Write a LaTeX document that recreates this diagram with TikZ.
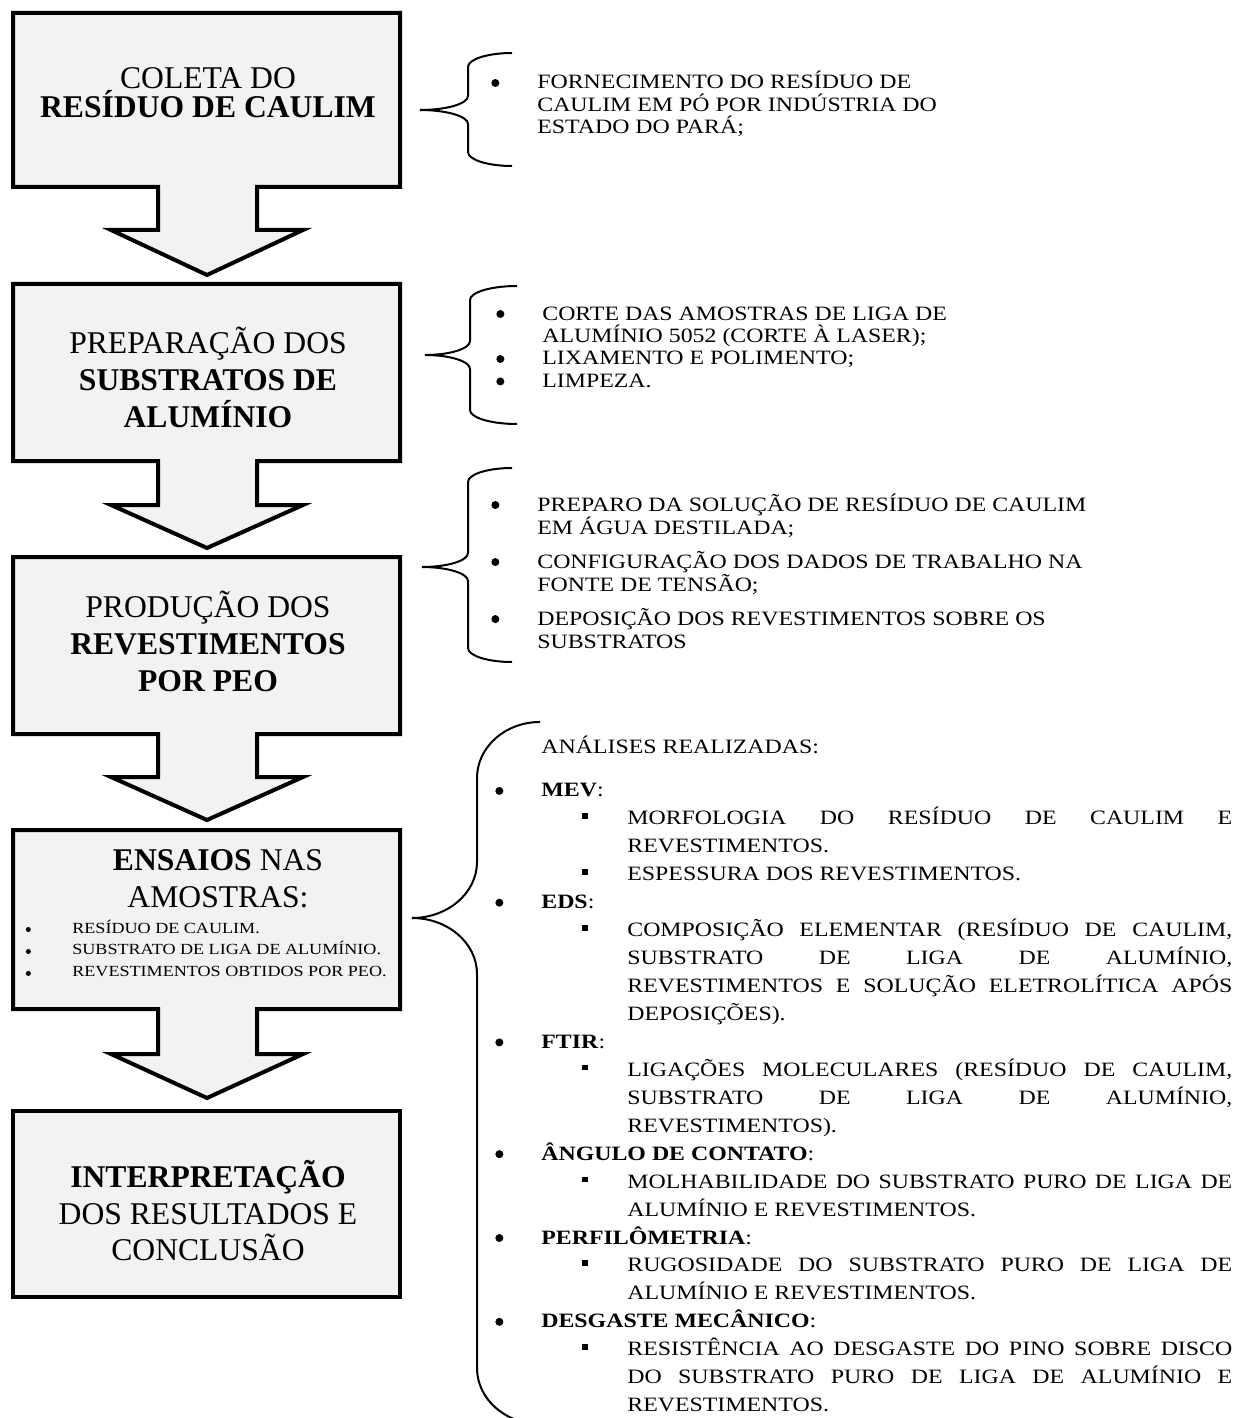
\documentclass[tikz,border=0pt]{standalone}
\usepackage{fontspec}
\setmainfont{Liberation Serif}
\newfontfamily\listfont[FakeStretch=1.17]{Liberation Serif}
\usepackage{tikz}
\usetikzlibrary{positioning}
\definecolor{stgInk}{RGB}{0,0,0}
\definecolor{stgFill}{RGB}{242,242,242}
\newlength{\px}
\setlength{\px}{0.2mm}
\newcommand{\dotmark}{\hspace*{-4\px}\tikz[baseline=0pt]\fill[stgInk] (0,6\px) circle (4\px);}
\newcommand{\minidot}{\hspace*{-2.5\px}\tikz[baseline=0pt]\fill[stgInk] (0,3.5\px) circle (2.5\px);}
\newcommand{\sqmark}{\tikz[baseline=0pt]\fill[stgInk] (0,6\px) rectangle (5.5\px,11.5\px);}
\newcommand{\itm}{\par\noindent\llap{\makebox[42\px][l]{\dotmark}}}
\newcommand{\miniitm}{\par\noindent\llap{\makebox[44\px][l]{\minidot}}}
\newcommand{\subitm}[1]{\par{\leftskip=86\px\tolerance=10000\hbadness=10000\hyphenpenalty=10000
  \noindent\llap{\makebox[45\px][l]{\sqmark}}#1\par}}
% box with its down arrow: top, bottom, shoulder, tip
\newcommand{\stageshape}[4]{%
  \draw[stage] (13,#1) -- (400,#1) -- (400,#2) -- (257,#2) -- (257,#3) -- (303,#3)
    -- (207,#4) -- (111,#3) -- (158,#3) -- (158,#2) -- (13,#2) -- cycle;}
% left brace: tip x, spine x, end x, top, tip y, bottom, corner
\newcommand{\sidebrace}[7]{%
  \draw[curly] (#3,#4) .. controls ({#3-0.552*(#3-#2)},#4) and (#2,{#4+0.448*#7}) .. (#2,{#4+#7})
    -- (#2,{#5-#7}) .. controls (#2,{#5-0.448*#7}) and ({#1+0.552*(#2-#1)},#5) .. (#1,#5)
    .. controls ({#1+0.552*(#2-#1)},#5) and (#2,{#5+0.448*#7}) .. (#2,{#5+#7})
    -- (#2,{#6-#7}) .. controls (#2,{#6-0.448*#7}) and ({#3-0.552*(#3-#2)},#6) .. (#3,#6);}

\begin{document}
\begin{tikzpicture}[x=0.2mm,y=-0.2mm]
\tikzset{
stage/.style={draw=stgInk,fill=stgFill,line width=0.8mm,line join=miter},
head/.style={font=\fontsize{18}{21}\selectfont,align=center,anchor=base,inner sep=0pt},
note/.style={font=\listfont\fontsize{11.6}{12.8}\selectfont,anchor=base west,inner sep=0pt},
curly/.style={draw=stgInk,line width=0.4mm}
}
\useasboundingbox (0,0) rectangle (1239,1418);
\fill[white] (0,0) rectangle (1239,1418);

\stageshape{13}{187}{230}{275}
\stageshape{284}{461}{505}{548}
\stageshape{557}{734}{777}{820}
\stageshape{830}{1009}{1054}{1098}
\draw[stage] (13,1111) rectangle (400,1297);

\node[head] (collect) at (208,118) {COLETA DO\\[-4pt]\textbf{RESÍDUO DE CAULIM}};
\node[head] (prep) at (208,427) {PREPARAÇÃO DOS\\\textbf{SUBSTRATOS DE}\\\textbf{ALUMÍNIO}};
\node[head] (coat) at (208,691) {PRODUÇÃO DOS\\\textbf{REVESTIMENTOS}\\\textbf{POR PEO}};
\node[head] (tests) at (218,907) {\textbf{ENSAIOS} NAS\\AMOSTRAS:};
\node[head] (interp) at (208,1260) {\textbf{INTERPRETAÇÃO}\\DOS RESULTADOS E\\[-1pt]CONCLUSÃO};

\node[note,font=\listfont\fontsize{8.8}{12.5}\selectfont] (samples) at (72,933) {\begin{minipage}[t]{340\px}
\miniitm RESÍDUO DE CAULIM.
\miniitm SUBSTRATO DE LIGA DE ALUMÍNIO.
\miniitm REVESTIMENTOS OBTIDOS POR PEO.
\end{minipage}};

\sidebrace{420}{468}{512}{53}{110}{166}{14}
\node[note] (supply) at (537,89) {\begin{minipage}[t]{660\px}
\itm FORNECIMENTO DO RESÍDUO DE\\CAULIM EM PÓ POR INDÚSTRIA DO\\ESTADO DO PARÁ;
\end{minipage}};

\sidebrace{425}{470}{517}{286}{355}{424}{14}
\node[note] (cutting) at (542,320) {\begin{minipage}[t]{660\px}
\itm CORTE DAS AMOSTRAS DE LIGA DE\\ALUMÍNIO 5052 (CORTE À LASER);
\itm LIXAMENTO E POLIMENTO;
\itm LIMPEZA.
\end{minipage}};

\sidebrace{422}{468}{512}{468}{567}{662}{14}
\node[note,font=\listfont\fontsize{11.6}{13.1}\selectfont] (peo) at (537,511) {\begin{minipage}[t]{660\px}
\itm PREPARO DA SOLUÇÃO DE RESÍDUO DE CAULIM\\EM ÁGUA DESTILADA;\par\vspace{11\px}
\itm CONFIGURAÇÃO DOS DADOS DE TRABALHO NA\\FONTE DE TENSÃO;\par\vspace{11\px}
\itm DEPOSIÇÃO DOS REVESTIMENTOS SOBRE OS\\SUBSTRATOS
\end{minipage}};

\sidebrace{412}{477}{540}{722}{918}{1424}{56}
\node[note,font=\listfont\fontsize{11.6}{15.9}\selectfont] (analyses) at (541,753) {\begin{minipage}[t]{691\px}
ANÁLISES REALIZADAS:\par\vspace{16\px}
\itm\textbf{MEV}:
\subitm{MORFOLOGIA DO RESÍDUO DE CAULIM E\linebreak REVESTIMENTOS.}
\subitm{ESPESSURA DOS REVESTIMENTOS.}
\itm\textbf{EDS}:
\subitm{COMPOSIÇÃO ELEMENTAR (RESÍDUO DE CAULIM,\linebreak SUBSTRATO DE LIGA DE ALUMÍNIO,\linebreak REVESTIMENTOS E SOLUÇÃO ELETROLÍTICA APÓS\linebreak DEPOSIÇÕES).}
\itm\textbf{FTIR}:
\subitm{LIGAÇÕES MOLECULARES (RESÍDUO DE CAULIM,\linebreak SUBSTRATO DE LIGA DE ALUMÍNIO,\linebreak REVESTIMENTOS).}
\itm\textbf{ÂNGULO DE CONTATO}:
\subitm{MOLHABILIDADE DO SUBSTRATO PURO DE LIGA DE\linebreak ALUMÍNIO E REVESTIMENTOS.}
\itm\textbf{PERFILÔMETRIA}:
\subitm{RUGOSIDADE DO SUBSTRATO PURO DE LIGA DE\linebreak ALUMÍNIO E REVESTIMENTOS.}
\itm\textbf{DESGASTE MECÂNICO}:
\subitm{RESISTÊNCIA AO DESGASTE DO PINO SOBRE DISCO\linebreak DO SUBSTRATO PURO DE LIGA DE ALUMÍNIO E\linebreak REVESTIMENTOS.}
\end{minipage}};
\end{tikzpicture}
\end{document}
